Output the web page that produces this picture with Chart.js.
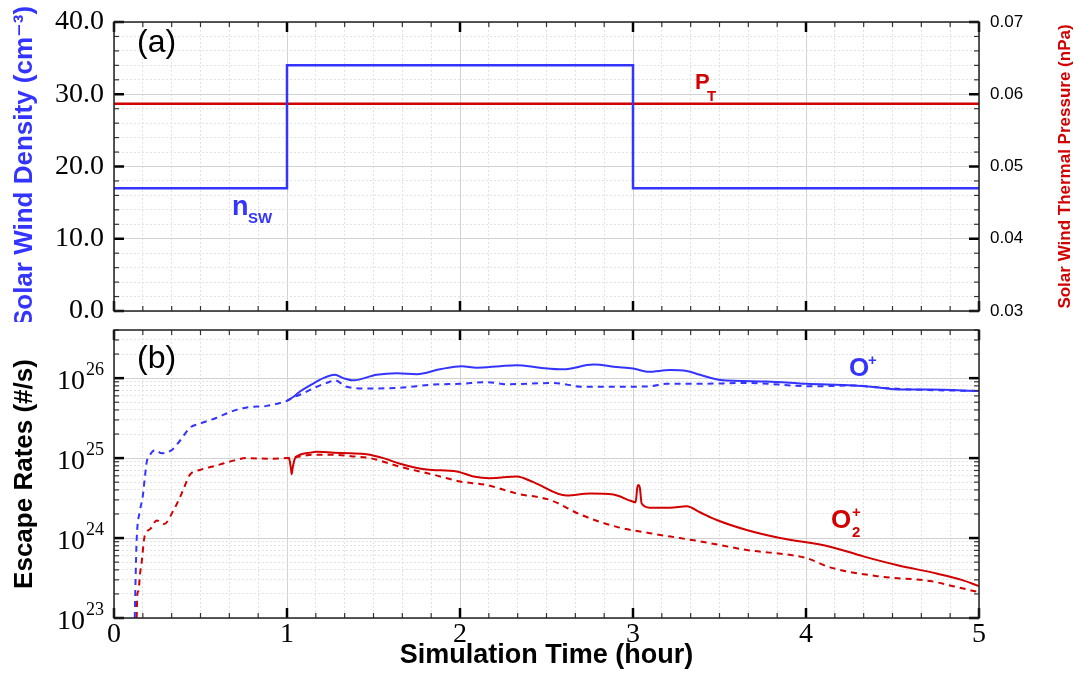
<!DOCTYPE html>
<html><head><meta charset="utf-8">
<script src="https://cdn.jsdelivr.net/npm/chart.js@4.4.1/dist/chart.umd.min.js"></script>
<style>
html,body{margin:0;padding:0;background:#fff;}
#wrap{position:relative;width:1078px;height:679px;background:#fff;}
#c1{position:absolute;left:0;top:0;}
#c2{position:absolute;left:0;top:322px;}
</style></head><body>
<div id="wrap"><canvas id="c1" width="1078" height="322"></canvas><canvas id="c2" width="1078" height="357"></canvas></div>
<script>
// ---------------- data ----------------
const densityTime = [0, 1, 1, 3, 3, 5];
const densityValues = [17, 17, 34, 34, 17, 17];
const pressureTime = [0, 5];
const pressureValues = [0.0587, 0.0587];

// O+ escape rate, constant solar wind (dashed)
const oPlusConstTime = [0.12,0.125,0.131,0.15,0.166,0.179,0.189,0.208,0.237,0.276,0.334,0.382,0.439,0.497,0.594,0.69,0.767,0.883,0.96,1.0,1.04,1.075,1.172,1.24,1.277,1.345,1.46,1.653,1.846,2.0,2.154,2.27,2.54,2.713,2.906,3.098,3.195,3.387,3.657,4.042,4.274,4.428,4.62,5.0];
const oPlusConstRate = [1.0e23,3.2e23,9.5e23,2.2e24,3.3e24,5.9e24,8.9e24,1.1e25,1.26e25,1.15e25,1.26e25,1.66e25,2.4e25,2.7e25,3.2e25,3.9e25,4.3e25,4.5e25,4.9e25,5.2e25,5.8e25,6.2e25,7.8e25,8.9e25,9.4e25,7.8e25,7.4e25,7.6e25,8.3e25,8.5e25,8.9e25,8.4e25,8.7e25,7.8e25,7.8e25,7.9e25,8.5e25,8.5e25,8.7e25,7.9e25,8.1e25,7.6e25,7.2e25,6.9e25];
// O+ escape rate, density pulse (solid)
const oPlusPulseTime = [1.0,1.04,1.075,1.133,1.21,1.277,1.326,1.383,1.518,1.634,1.75,1.884,2.01,2.096,2.231,2.328,2.462,2.597,2.771,2.906,3.0,3.089,3.214,3.31,3.387,3.503,3.773,4.004,4.274,4.428,4.543,4.717,5.0];
const oPlusPulseRate = [5.2e25,5.9e25,6.8e25,8.1e25,1.0e26,1.1e26,1.0e26,9.4e25,1.1e26,1.15e26,1.12e26,1.29e26,1.41e26,1.35e26,1.41e26,1.45e26,1.35e26,1.29e26,1.48e26,1.38e26,1.32e26,1.2e26,1.26e26,1.23e26,1.1e26,9.5e25,9.1e25,8.5e25,8.1e25,7.6e25,7.2e25,7.2e25,6.9e25];
// O2+ escape rate, constant solar wind (dashed)
const o2PlusConstTime = [0.131,0.135,0.142,0.150,0.160,0.175,0.19,0.21,0.247,0.29,0.343,0.391,0.439,0.497,0.594,0.69,0.767,0.9,1.0,1.075,1.15,1.268,1.38,1.48,1.653,1.846,2.0,2.154,2.328,2.52,2.7,2.906,3.098,3.27,3.387,3.657,4.004,4.139,4.428,4.717,4.85,5.0];
const o2PlusConstRate = [1.0e23,2.0e23,2.2e23,3.5e23,5.0e23,1.0e24,1.2e24,1.3e24,1.66e24,1.5e24,2.2e24,3.6e24,6.2e24,7.1e24,8.1e24,9.3e24,1.0e25,9.8e24,1.0e25,1.05e25,1.1e25,1.1e25,1.05e25,1.0e25,7.8e24,6.2e24,5.1e24,4.6e24,3.6e24,3.0e24,1.95e24,1.38e24,1.15e24,1.0e24,9.1e23,7.1e23,5.6e23,4.3e23,3.3e23,2.9e23,2.5e23,2.1e23];
// O2+ escape rate, density pulse (solid)
const o2PlusPulseTime = [1.0,1.012,1.022,1.027,1.033,1.045,1.075,1.133,1.17,1.27,1.364,1.46,1.557,1.653,1.807,1.981,2.077,2.173,2.328,2.424,2.617,2.751,2.886,2.99,3.015,3.025,3.031,3.04,3.05,3.098,3.214,3.31,3.387,3.484,3.657,3.85,4.139,4.331,4.524,4.755,4.9,5.0];
const o2PlusPulseRate = [1.0e25,9.8e24,7.6e24,6.3e24,7.6e24,9.8e24,1.1e25,1.17e25,1.2e25,1.17e25,1.15e25,1.12e25,1.0e25,8.5e24,7.2e24,6.8e24,5.9e24,5.6e24,5.9e24,5.0e24,3.4e24,3.6e24,3.5e24,2.9e24,2.8e24,4.3e24,4.6e24,4.2e24,2.7e24,2.4e24,2.4e24,2.5e24,2.1e24,1.68e24,1.26e24,1.0e24,7.8e23,5.9e23,4.6e23,3.6e23,3.0e23,2.5e23];

// tick labels
const timeTickLabels = ['0','1','2','3','4','5'];
const densityTickLabels = ['0.0','10.0','20.0','30.0','40.0'];
const pressureTickLabels = ['0.03','0.04','0.05','0.06','0.07'];
const rateTickExponents = ['23','24','25','26'];

// ---------------- styling ----------------
const BLUE = '#3434ff', RED = '#d20000';
const SANS = "'Liberation Sans', Arial, 'DejaVu Sans', sans-serif";
const SERIF = "'Liberation Serif', 'Times New Roman', serif";

const pts = (xs, ys) => xs.map((x, i) => ({x, y: ys[i]}));

function gridOpts() {
  return {
    drawTicks: false,
    color: c => (c.tick && c.tick.major) ? '#d2d2d2' : '#e3e3e3',
    lineWidth: 1
  };
}
function borderOpts() {
  return { display: false, dash: c => (c.tick && c.tick.major) ? [] : [2, 2] };
}
function timeTicks(s) {
  const t = [];
  for (let i = 0; i <= 30; i++) t.push({value: i / 6, major: i % 6 === 0});
  s.ticks = t;
}
function zeroPad(s) { s.paddingLeft = 0; s.paddingRight = 0; s.paddingTop = 0; s.paddingBottom = 0; }

function drawRich(ctx, parts, x, y, color) {
  ctx.save();
  ctx.fillStyle = color;
  ctx.textBaseline = 'alphabetic';
  ctx.textAlign = 'left';
  for (const p of parts) {
    ctx.font = (p.weight || 'bold') + ' ' + p.size + 'px ' + SANS;
    ctx.fillText(p.t, x + p.dx, y + p.dy);
  }
  ctx.restore();
}

// extra drawing per canvas (kept outside plugin options)
const extras = {};

const decor = {
  id: 'decor',
  afterDatasetsDraw(chart) {
    const ctx = chart.ctx, a = chart.chartArea;
    const cfg = extras[chart.canvas.id];
    const xs = chart.scales.x, yl = chart.scales[cfg.left], yr = chart.scales[cfg.right || cfg.left];
    ctx.save();
    const mark = (x1, y1, x2, y2, major) => {
      ctx.beginPath();
      ctx.lineWidth = major ? 2.5 : 1.2;
      ctx.strokeStyle = major ? '#000' : '#333';
      ctx.moveTo(x1, y1); ctx.lineTo(x2, y2); ctx.stroke();
    };
    xs.ticks.forEach(t => {
      const p = xs.getPixelForValue(t.value), L = t.major ? 10 : 5;
      mark(p, a.top, p, a.top + L, t.major);
      mark(p, a.bottom, p, a.bottom - L, t.major);
    });
    yl.ticks.forEach(t => {
      const p = yl.getPixelForValue(t.value), L = t.major ? 10 : 5;
      mark(a.left, p, a.left + L, p, t.major);
    });
    yr.ticks.forEach(t => {
      const p = yr.getPixelForValue(t.value), L = t.major ? 10 : 5;
      mark(a.right, p, a.right - L, p, t.major);
    });
    ctx.lineWidth = 1.5; ctx.strokeStyle = '#222';
    ctx.strokeRect(a.left, a.top, a.right - a.left, a.bottom - a.top);
    ctx.restore();
    cfg.draw(chart, ctx);
  }
};

extras.c1 = {
  left: 'y', right: 'y2',
  draw: (chart, ctx) => {
    drawRich(ctx, [{t: '(a)', size: 32, dx: 0, dy: 0, weight: 'normal'}], 137, 52, '#000');
    drawRich(ctx, [{t: 'n', size: 27, dx: 0, dy: 0}, {t: 'SW', size: 15, dx: 16, dy: 8}], 232, 215, BLUE);
    drawRich(ctx, [{t: 'P', size: 22, dx: 0, dy: 0}, {t: 'T', size: 15, dx: 12, dy: 12}], 695, 89, RED);
    ctx.save();
    ctx.translate(1065, 166.5);
    ctx.rotate(-Math.PI / 2);
    ctx.fillStyle = RED;
    ctx.font = 'bold 17px ' + SANS;
    ctx.textAlign = 'center'; ctx.textBaseline = 'middle';
    ctx.fillText('Solar Wind Thermal Pressure (nPa)', 0, 0);
    ctx.restore();
  }
};
extras.c2 = {
  left: 'y',
  draw: (chart, ctx) => {
    drawRich(ctx, [{t: '(b)', size: 32, dx: 0, dy: 0, weight: 'normal'}], 137, 46, '#000');
    drawRich(ctx, [{t: 'O', size: 26, dx: 0, dy: 0}, {t: '+', size: 15, dx: 19, dy: -11}], 849, 54, BLUE);
    drawRich(ctx, [{t: 'O', size: 26, dx: 0, dy: 0}, {t: '2', size: 15, dx: 21, dy: 9}, {t: '+', size: 15, dx: 21, dy: -11}], 831, 206, RED);
    const ys = chart.scales.y;
    ys.ticks.forEach(t => {
      if (!t.major) return;
      const p = ys.getPixelForValue(t.value);
      const e = Math.round(Math.log10(t.value));
      ctx.save();
      ctx.fillStyle = '#000'; ctx.textAlign = 'left'; ctx.textBaseline = 'alphabetic';
      ctx.font = '28px ' + SERIF;
      ctx.fillText('10', 57, p + 11);
      ctx.font = '18px ' + SERIF;
      ctx.fillText(rateTickExponents[e - 23], 86, p - 3);
      ctx.restore();
    });
  }
};

// ---------------- panel (a) ----------------
new Chart(document.getElementById('c1'), {
  type: 'line',
  data: { datasets: [
    { label: 'n_sw', data: pts(densityTime, densityValues), yAxisID: 'y', borderColor: BLUE, borderWidth: 2.5, pointRadius: 0, tension: 0, borderJoinStyle: 'miter' },
    { label: 'P_T', data: pts(pressureTime, pressureValues), yAxisID: 'y2', borderColor: RED, borderWidth: 2.5, pointRadius: 0, tension: 0 }
  ]},
  options: {
    responsive: false, animation: false, events: [],
    layout: { padding: { top: 22, left: 0, right: 0, bottom: 0 } },
    plugins: { legend: { display: false }, tooltip: { enabled: false } },
    scales: {
      x: {
        type: 'linear', min: 0, max: 5, position: 'bottom',
        afterBuildTicks: timeTicks,
        ticks: { display: false, autoSkip: false },
        grid: gridOpts(), border: borderOpts(),
        afterFit: s => { s.height = 11; zeroPad(s); }
      },
      y: {
        type: 'linear', position: 'left', min: 0, max: 40,
        afterBuildTicks: s => { const t = []; for (let i = 0; i <= 20; i++) t.push({value: i * 2, major: i % 5 === 0}); s.ticks = t; },
        ticks: {
          autoSkip: false, padding: 10, color: '#000',
          font: { family: SERIF, size: 28 },
          callback: v => (Math.round(v) % 10 === 0) ? densityTickLabels[Math.round(v) / 10] : ''
        },
        grid: gridOpts(), border: borderOpts(),
        title: { display: true, text: 'Solar Wind Density (cm⁻³)', color: BLUE, font: { family: SANS, size: 26, weight: 'bold' }, padding: { top: 9, bottom: 0 } },
        afterFit: s => { s.width = 114; zeroPad(s); }
      },
      y2: {
        type: 'linear', position: 'right', min: 0.03, max: 0.07,
        afterBuildTicks: s => { const t = []; for (let i = 0; i <= 20; i++) t.push({value: (30 + 2 * i) / 1000, major: i % 5 === 0}); s.ticks = t; },
        ticks: {
          autoSkip: false, padding: 11, color: '#000',
          font: { family: SANS, size: 17 },
          callback: (v, i) => (i % 5 === 0) ? pressureTickLabels[i / 5] : ''
        },
        grid: { display: false, drawTicks: false }, border: { display: false },
        afterFit: s => { s.width = 99; zeroPad(s); }
      }
    }
  },
  plugins: [decor]
});

// ---------------- panel (b) ----------------
const curve = { pointRadius: 0, borderWidth: 2, cubicInterpolationMode: 'monotone' };
new Chart(document.getElementById('c2'), {
  type: 'line',
  data: { datasets: [
    Object.assign({ label: 'O+ pulse', data: pts(oPlusPulseTime, oPlusPulseRate), borderColor: BLUE }, curve),
    Object.assign({ label: 'O2+ pulse', data: pts(o2PlusPulseTime, o2PlusPulseRate), borderColor: RED }, curve),
    Object.assign({ label: 'O+ constant', data: pts(oPlusConstTime, oPlusConstRate), borderColor: BLUE, borderDash: [6, 5] }, curve),
    Object.assign({ label: 'O2+ constant', data: pts(o2PlusConstTime, o2PlusConstRate), borderColor: RED, borderDash: [6, 5] }, curve)
  ]},
  options: {
    responsive: false, animation: false, events: [],
    layout: { padding: { top: 8, left: 0, right: 99, bottom: 0 } },
    plugins: { legend: { display: false }, tooltip: { enabled: false } },
    scales: {
      x: {
        type: 'linear', min: 0, max: 5, position: 'bottom',
        afterBuildTicks: timeTicks,
        ticks: {
          autoSkip: false, padding: 0, color: '#000', maxRotation: 0,
          font: { family: SERIF, size: 28 },
          callback: (v, i) => (i % 6 === 0) ? timeTickLabels[i / 6] : ''
        },
        grid: gridOpts(), border: borderOpts(),
        title: { display: true, text: 'Simulation Time (hour)', color: '#000', font: { family: SANS, size: 27, weight: 'bold' }, padding: { top: 0, bottom: 7 } },
        afterFit: s => { s.height = 61; zeroPad(s); }
      },
      y: {
        type: 'logarithmic', position: 'left', min: 1e23, max: 4e26,
        afterBuildTicks: s => {
          const t = [];
          for (let e = 23; e <= 26; e++) for (let m = 1; m <= 9; m++) { const v = m * Math.pow(10, e); if (v <= 4.0001e26) t.push({value: v, major: m === 1}); }
          s.ticks = t;
        },
        ticks: { autoSkip: false, padding: 10, callback: () => '' },
        grid: gridOpts(), border: borderOpts(),
        title: { display: true, text: 'Escape Rates (#/s)', color: '#000', font: { family: SANS, size: 26, weight: 'bold' }, padding: { top: 9, bottom: 0 } },
        afterFit: s => { s.width = 114; zeroPad(s); }
      }
    }
  },
  plugins: [decor]
});
</script>
</body></html>
